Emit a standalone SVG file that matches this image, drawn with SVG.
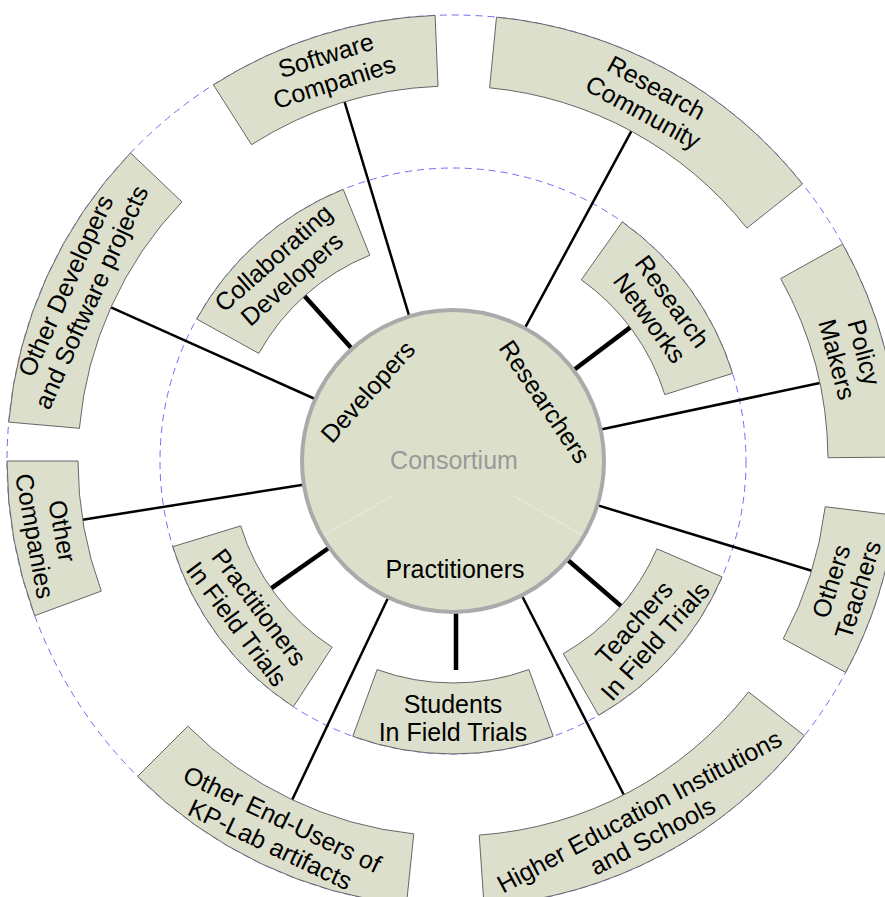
<svg xmlns="http://www.w3.org/2000/svg" width="885" height="897" viewBox="0 0 885 897">
<style>
.box{fill:#dcdfcb;stroke:#666;stroke-width:1}
.t{font-family:"Liberation Sans",Arial,sans-serif;font-size:25px;fill:#000;text-anchor:middle}
.ring{fill:none;stroke:#6f6ff5;stroke-width:1;stroke-dasharray:7 5}
.thin{stroke:#000;stroke-width:2.5}
.thick{stroke:#000;stroke-width:4.5}
</style>
<rect width="885" height="897" fill="#fff"/>
<circle class="ring" cx="453" cy="461" r="293"/>
<circle class="ring" cx="453" cy="461" r="446"/>
<g id="connectors">
<line class="thin" x1="409.6" y1="317.4" x2="344.6" y2="102"/>
<line class="thin" x1="524.3" y1="329.1" x2="631.4" y2="131.2"/>
<line class="thin" x1="599.7" y1="429.8" x2="819.8" y2="383"/>
<line class="thin" x1="596.4" y1="504.9" x2="811.6" y2="570.7"/>
<line class="thin" x1="521.3" y1="594.5" x2="623.8" y2="794.8"/>
<line class="thin" x1="388.7" y1="596.5" x2="292.2" y2="799.7"/>
<line class="thin" x1="304.8" y1="484.5" x2="82.6" y2="519.7"/>
<line class="thin" x1="316.2" y1="399.5" x2="111" y2="307.3"/>
<line class="thick" x1="352.6" y1="349.5" x2="304.5" y2="296"/>
<line class="thick" x1="572.8" y1="370.7" x2="630.3" y2="327.4"/>
<line class="thick" x1="330.1" y1="547" x2="271.1" y2="588.3"/>
<line class="thick" x1="456" y1="608" x2="456" y2="670"/>
<line class="thick" x1="566.6" y1="559" x2="621.1" y2="606.1"/>
</g>
<g id="collaborating-developers">
<path class="box" d="M196.7,319 A293,293 0 0 1 343.2,189.3 L369.8,255.2 A222,222 0 0 0 258.8,353.4 Z"/>
<text class="t" transform="translate(282.7,268.5) rotate(-41.5)"><tspan x="0" y="-5.5">Collaborating</tspan><tspan x="0" y="22.5">Developers</tspan></text>
</g>
<g id="research-networks">
<path class="box" d="M622.3,221.9 A293,293 0 0 1 732.6,373.4 L664.8,394.6 A222,222 0 0 0 581.3,279.8 Z"/>
<text class="t" transform="translate(660.8,309.8) rotate(53.95)"><tspan x="0" y="-5.5">Research</tspan><tspan x="0" y="22.5">Networks</tspan></text>
</g>
<g id="practitioners-field-trials">
<path class="box" d="M293.4,706.7 A293,293 0 0 1 172.8,546.7 L240.7,525.9 A222,222 0 0 0 332.1,647.2 Z"/>
<text class="t" transform="translate(247.8,615.7) rotate(53)"><tspan x="0" y="-5.5">Practitioners</tspan><tspan x="0" y="22.5">In Field Trials</tspan></text>
</g>
<g id="students-field-trials">
<path class="box" d="M553.2,736.3 A293,293 0 0 1 352.8,736.3 L377.1,669.6 A222,222 0 0 0 528.9,669.6 Z"/>
<text class="t" transform="translate(453,718)"><tspan x="0" y="-5.5">Students</tspan><tspan x="0" y="22.5">In Field Trials</tspan></text>
</g>
<g id="teachers-field-trials">
<path class="box" d="M722.1,576.9 A293,293 0 0 1 598.6,715.3 L563.3,653.7 A222,222 0 0 0 656.9,548.8 Z"/>
<text class="t" transform="translate(644.7,632) rotate(-48.25)"><tspan x="0" y="-5.5">Teachers</tspan><tspan x="0" y="22.5">In Field Trials</tspan></text>
</g>
<g id="software-companies">
<path class="box" d="M213.4,84.8 A446,446 0 0 1 435.1,15.4 L438,86.3 A375,375 0 0 0 251.5,144.7 Z"/>
<text class="t" transform="translate(330.1,68.8) rotate(-17.4)"><tspan x="0" y="-5.5">Software</tspan><tspan x="0" y="22.5">Companies</tspan></text>
</g>
<g id="research-community">
<path class="box" d="M496.5,17.1 A446,446 0 0 1 802.5,184 L746.9,228.1 A375,375 0 0 0 489.6,87.8 Z"/>
<text class="t" transform="translate(649.7,100.1) rotate(28.6)"><tspan x="0" y="-5.5">Research</tspan><tspan x="0" y="22.5">Community</tspan></text>
</g>
<g id="policy-makers">
<path class="box" d="M842.7,244.1 A446,446 0 0 1 899,457.1 L828,457.7 A375,375 0 0 0 780.7,278.6 Z"/>
<text class="t" transform="translate(850.4,356) rotate(75.2)"><tspan x="0" y="-5.5">Policy</tspan><tspan x="0" y="22.5">Makers</tspan></text>
</g>
<g id="others-teachers">
<path class="box" d="M895.7,515.4 A446,446 0 0 1 845.7,672.4 L783.2,638.8 A375,375 0 0 0 825.2,506.7 Z"/>
<text class="t" transform="translate(844.6,585.6) rotate(-72.35)"><tspan x="0" y="-5.5">Others</tspan><tspan x="0" y="22.5">Teachers</tspan></text>
</g>
<g id="higher-education">
<path class="box" d="M804.4,735.6 A446,446 0 0 1 484.1,905.9 L479.2,835.1 A375,375 0 0 0 748.5,691.9 Z"/>
<text class="t" transform="translate(646,823.9) rotate(-28)"><tspan x="0" y="-5.5">Higher Education Institutions</tspan><tspan x="0" y="22.5">and Schools</tspan></text>
</g>
<g id="other-end-users">
<path class="box" d="M406.4,904.6 A446,446 0 0 1 137.6,776.4 L187.8,726.2 A375,375 0 0 0 413.8,833.9 Z"/>
<text class="t" transform="translate(276.1,832) rotate(25.5)"><tspan x="0" y="-5.5">Other End-Users of</tspan><tspan x="0" y="22.5">KP-Lab artifacts</tspan></text>
</g>
<g id="other-companies">
<path class="box" d="M34.7,615.7 A446,446 0 0 1 7,461 L78,461 A375,375 0 0 0 101.3,591.1 Z"/>
<text class="t" transform="translate(48.4,533.5) rotate(79.85)"><tspan x="0" y="-5.5">Other</tspan><tspan x="0" y="22.5">Companies</tspan></text>
</g>
<g id="other-developers">
<path class="box" d="M8.7,422.1 A446,446 0 0 1 130.5,152.9 L181.9,201.9 A375,375 0 0 0 79.4,428.3 Z"/>
<text class="t" transform="translate(78.5,291.5) rotate(-65.65)"><tspan x="0" y="-5.5">Other Developers</tspan><tspan x="0" y="22.5">and Software projects</tspan></text>
</g>
<g id="consortium">
<circle cx="453" cy="461" r="151" fill="#dce0cb" stroke="#aaa" stroke-width="4"/>
<line x1="392" y1="496" x2="324" y2="535" stroke="#e5e7d8" stroke-width="1.5"/>
<line x1="514" y1="496" x2="582" y2="535" stroke="#e5e7d8" stroke-width="1.5"/>
<text class="t" x="454" y="469" fill="#999" style="fill:#999">Consortium</text>
<text class="t" x="455" y="578">Practitioners</text>
<text class="t" transform="translate(367.5,391.5) rotate(-48)" x="0" y="9">Developers</text>
<text class="t" transform="translate(545,401.5) rotate(56)" x="0" y="9">Researchers</text>
</g>
</svg>
